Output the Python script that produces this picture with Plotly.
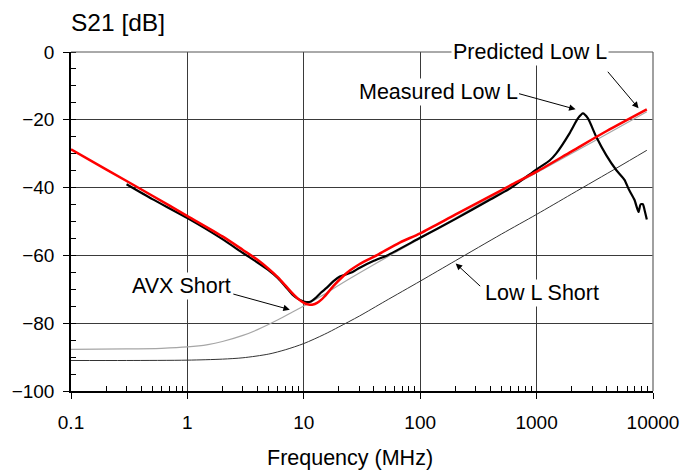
import plotly.graph_objects as go

# ---- data (frequency in MHz, S21 in dB) ----
pred_f = [0.1, 0.2, 0.5, 1, 2, 3, 4, 5, 6, 7, 8, 9, 10, 11, 12, 13, 14, 15, 18, 22, 25, 30, 42.6, 66.7, 100, 200, 400, 600, 1000, 2000, 4000, 8850]
pred_db = [-28.7, -34.6, -42.4, -48.4, -54.4, -58.4, -61.3, -64.0, -66.5, -69.0, -71.2, -72.9, -74.0, -74.5, -74.5, -74.0, -73.2, -72.2, -69.0, -66.0, -64.4, -62.6, -59.9, -56.2, -53.5, -48.0, -42.5, -39.3, -35.3, -29.3, -23.3, -16.9]

meas_f = [0.3, 0.5, 1, 2, 3, 4, 5, 6, 7, 8, 9, 10, 10.8, 11.5, 12.5, 14, 15.7, 18, 20.4, 23, 26.5, 30, 40, 52, 100, 200, 400, 607, 1000, 1294, 1476, 1919, 2264, 2501, 2762, 3253, 3963, 4830, 5690, 6195, 6930, 7510, 7810, 8180, 8460, 8850]
meas_db = [-39.0, -43.4, -49.0, -55.2, -59.3, -62.1, -64.4, -66.7, -69.3, -71.6, -72.9, -73.6, -73.8, -73.6, -72.7, -71.0, -69.6, -67.6, -66.2, -65.6, -64.8, -63.7, -61.6, -60.0, -54.8, -49.3, -43.5, -40.0, -34.6, -32.0, -29.9, -24.0, -19.6, -18.1, -19.6, -25.0, -30.4, -34.8, -37.7, -40.5, -43.6, -47.2, -45.0, -44.9, -46.6, -49.4]

avx_f = [0.1, 0.3, 0.6, 1, 1.5, 2, 3, 4, 6, 8, 10, 15, 20, 30, 50, 100, 200, 500, 1000, 3000, 8850]
avx_db = [-87.7, -87.6, -87.4, -87.0, -86.3, -85.4, -83.6, -81.9, -79.0, -76.7, -74.9, -71.5, -68.8, -65.2, -60.8, -55.0, -49.0, -41.2, -35.6, -26.6, -17.6]

lowl_f = [0.1, 0.3, 1, 2, 3, 5, 7, 10, 15, 20, 30, 50, 100, 200, 500, 1000, 2000, 5000, 8850]
lowl_db = [-91.0, -91.0, -90.9, -90.6, -90.2, -89.1, -87.8, -86.0, -83.3, -81.1, -77.9, -73.5, -67.6, -61.6, -53.7, -47.9, -41.9, -34.0, -29.0]

x_ticks = [0.1, 1, 10, 100, 1000, 10000]
x_ticktext = ["0.1", "1", "10", "100", "1000", "10000"]
x_minor = [m * d for d in [0.1, 1, 10, 100, 1000] for m in range(2, 10)]

FONT = "Liberation Sans, Arial, sans-serif"

fig = go.Figure()
fig.add_trace(go.Scatter(x=avx_f, y=avx_db, mode="lines", name="AVX Short",
                         line=dict(color="#a6a6a6", width=1.2, shape="spline", smoothing=0.8)))
fig.add_trace(go.Scatter(x=lowl_f, y=lowl_db, mode="lines", name="Low L Short",
                         line=dict(color="#333333", width=1, shape="spline", smoothing=0.8)))
fig.add_trace(go.Scatter(x=meas_f, y=meas_db, mode="lines", name="Measured Low L",
                         line=dict(color="black", width=2.2, shape="spline", smoothing=0.6)))
fig.add_trace(go.Scatter(x=pred_f, y=pred_db, mode="lines", name="Predicted Low L",
                         line=dict(color="#ff0000", width=2.5, shape="spline", smoothing=0.8)))

fig.update_layout(
    width=684, height=471,
    margin=dict(l=71, r=31, t=52, b=80),
    paper_bgcolor="white", plot_bgcolor="white",
    showlegend=False,
    font=dict(family=FONT, size=19, color="black"),
)

fig.update_xaxes(
    type="log", range=[-1, 4], automargin=False,
    tickmode="array", tickvals=x_ticks, ticktext=x_ticktext,
    ticks="outside", ticklen=6, tickwidth=1, tickcolor="black",
    showgrid=True, gridcolor="#3a3a3a", gridwidth=1,
    showline=True, linecolor="black", linewidth=1.5,
    zeroline=False, ticklabelstandoff=7,
    tickfont=dict(size=19, family=FONT),
    minor=dict(tickmode="array", tickvals=x_minor, ticks="inside", ticklen=5,
               tickwidth=1, tickcolor="black", showgrid=False),
)
fig.update_yaxes(
    range=[-100, 0], dtick=20, automargin=False,
    ticks="outside", ticklen=6, tickwidth=1, tickcolor="black",
    showgrid=True, gridcolor="#3a3a3a", gridwidth=1,
    showline=True, linecolor="black", linewidth=1.5,
    zeroline=False, ticklabelstandoff=5,
    tickfont=dict(size=19, family=FONT),
    minor=dict(dtick=5, ticks="inside", ticklen=5, tickwidth=1,
               tickcolor="black", showgrid=False),
)

# top and right frame
fig.add_shape(type="line", xref="paper", yref="paper", x0=1, x1=1, y0=0, y1=1,
              line=dict(color="#808080", width=1.5))
fig.add_shape(type="line", xref="paper", yref="paper", x0=0, x1=1, y0=1, y1=1,
              line=dict(color="#555555", width=1))

ann_font = dict(family=FONT, size=21.5, color="black")

# axis titles
fig.add_annotation(text="S21 [dB]", xref="paper", yref="paper", x=0, y=1.0875,
                   xanchor="left", yanchor="middle", showarrow=False, xshift=-2,
                   font=dict(family=FONT, size=24.5, color="black"))
fig.add_annotation(text="Frequency (MHz)", xref="paper", yref="paper", x=0.479, y=-0.1975,
                   xanchor="center", yanchor="middle", showarrow=False,
                   font=dict(family=FONT, size=21.5, color="black"))

# curve labels (text) -- log axis annotations use log10(x)
labels = [
    ("Predicted Low L", 2.94, 0.0),
    ("Measured Low L", 2.159, -11.8),
    ("AVX Short", -0.0515, -68.9),
    ("Low L Short", 3.043, -71.0),
]
for txt, lx, ly in labels:
    fig.add_annotation(text=txt, x=lx, y=ly, xref="x", yref="y", showarrow=False,
                       font=ann_font, bgcolor="white", borderpad=1,
                       xanchor="center", yanchor="middle")

# arrows: tip (log10 f, dB) and tail offset (px)
arrows = [
    (3.876, -16.6, -32, -38),
    (3.335, -16.9, -58, -16),
    (0.880, -76.0, -58, -16),
    (2.305, -62.4, 26, 24),
]
for tx, ty, ax, ay in arrows:
    fig.add_annotation(text="", x=tx, y=ty, xref="x", yref="y", showarrow=True,
                       ax=ax, ay=ay, arrowhead=2, arrowsize=1.3, arrowwidth=1,
                       arrowcolor="black", standoff=0, startstandoff=0)

fig.write_html("out.html")
